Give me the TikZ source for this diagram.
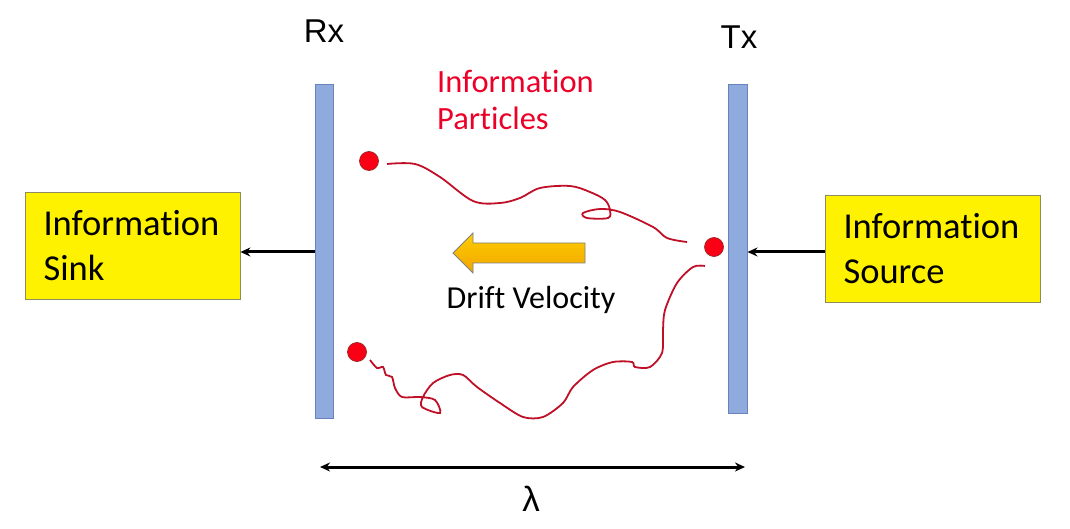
\documentclass[tikz,border=0pt]{standalone}
\usepackage{fontspec}
\setmainfont{Carlito}[Ligatures=NoCommon]
\newfontfamily\arialfont{Liberation Sans}
\usetikzlibrary{arrows.meta}
\definecolor{barfill}{RGB}{143,170,220}
\definecolor{barline}{RGB}{105,130,190}
\definecolor{boxline}{RGB}{140,140,95}
\definecolor{ptred}{RGB}{235,0,40}
\definecolor{pathred}{RGB}{192,16,40}
\definecolor{dotred}{RGB}{250,0,20}
\definecolor{dotline}{RGB}{150,40,40}
\definecolor{drifttop}{RGB}{255,205,0}
\definecolor{driftbot}{RGB}{240,165,0}
\begin{document}
\begin{tikzpicture}[x=1pt,y=-1pt,
  bar/.style={draw=barline, fill=barfill, line width=1pt, minimum width=18pt, inner sep=0pt},
  infobox/.style={draw=boxline, fill=yellow, line width=0.8pt, minimum width=215pt, minimum height=107pt,
    text width=178pt, align=left, inner sep=0pt, font=\fontsize{36.5}{45}\selectfont},
  particle/.style={circle, draw=dotline, fill=dotred, line width=0.7pt, minimum size=19pt, inner sep=0pt},
  link/.style={-{Stealth[length=10pt,width=9pt]}, line width=3pt},
  walk/.style={pathred, line width=1.8pt},
  label/.style={font=\arialfont\fontsize{33}{40}\selectfont}]
\useasboundingbox (0,0) rectangle (1070,529);

% bars
\node[bar, minimum height=333pt] (rx) at (324,251.5) {};
\node[bar, minimum height=328pt, minimum width=19pt] (tx) at (737.5,249) {};
\node[label, anchor=base] (rxl) at (324,43) {Rx};
\node[label, anchor=base] (txl) at (739,49) {Tx};

% boxes
\node[infobox] (sink) at (132.5,245.5) {Information\\Sink};
\node[infobox] (source) at (932.5,248.5) {Information\\Source};

% arrows
\draw[link] (rx.west |- 0,252) -- (sink.east |- 0,252);
\draw[link] (source.west |- 0,252) -- (tx.east |- 0,252);

% particles text (base anchor = last line)
\node[anchor=base west, inner sep=0pt, align=left, text=ptred, font=\fontsize{32.5}{37}\selectfont] (ptxt) at (437,130) {Information\\Particles};

% random walks
\draw[walk] plot[smooth, tension=0.55] coordinates {(387,164) (415,164) (440,177) (473,201) (500,203) (520,198) (540,188) (570,186) (590,192) (605,200) (610,210) (608,218) (587,218) (583,213) (600,209) (620,212) (653,227) (667,238) (687,242)};
\draw[walk] plot[smooth, tension=0.5] coordinates {(705,266) (693,267) (677,283) (665,310) (663,330) (662,353) (650,367) (635,367) (632,362) (613,362) (593,370) (573,387) (563,403) (543,417) (523,417) (500,403) (477,387) (463,375) (450,375) (433,383) (423,397) (422,407) (440,413) (435,400) (420,397) (402,397) (395,388) (392,377) (386,375) (383,367) (377,368) (370,360)};

% particles
\node[particle] (p1) at (369,161) {};
\node[particle] (p2) at (714,247) {};
\node[particle] (p3) at (357,352) {};

% drift arrow
\draw[draw=gray, line width=0.8pt, top color=drifttop, bottom color=driftbot]
  (585,243) -- (473,243) -- (473,233) -- (453,253) -- (473,273) -- (473,263) -- (585,263) -- cycle;
\node[anchor=base, inner sep=0pt, font=\fontsize{32}{36}\selectfont] (drift) at (531,308) {Drift Velocity};

% lambda
\coordinate (lamL) at (320,467);
\coordinate (lamR) at (745,467);
\draw[{Stealth[length=10pt,width=9pt]}-{Stealth[length=10pt,width=9pt]}, line width=3pt] (lamL) -- (lamR);
\node[anchor=base, inner sep=0pt, font=\arialfont\fontsize{35}{40}\selectfont] (lam) at (531,511) {λ};
\end{tikzpicture}
\end{document}
